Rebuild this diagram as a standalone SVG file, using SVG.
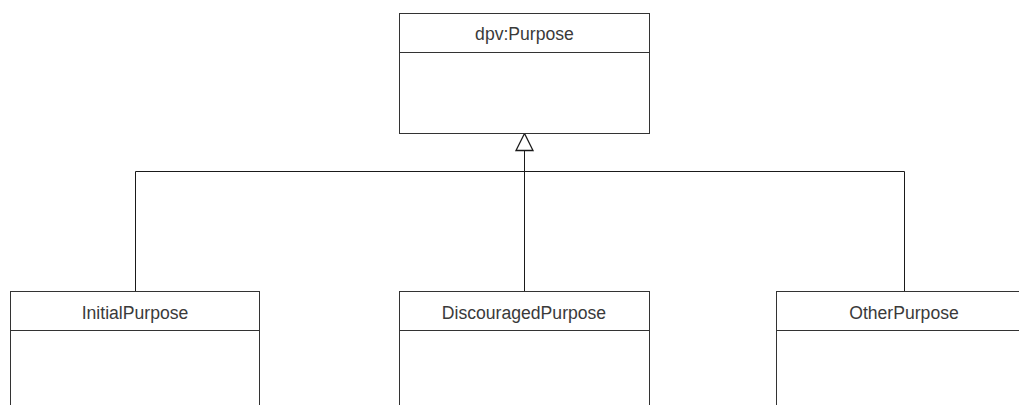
<svg xmlns="http://www.w3.org/2000/svg" width="1019" height="405" viewBox="0 0 1019 405">
  <style>
    .box { fill: #ffffff; stroke: #333333; stroke-width: 1; }
    .sep { stroke: #333333; stroke-width: 1; fill: none; }
    .edge { stroke: #1a1a1a; stroke-width: 1; fill: none; }
    .label { font-family: "Liberation Sans", Arial, sans-serif; font-size: 17.6px; fill: #3a3a3a; text-anchor: middle; }
  </style>
  <rect x="0" y="0" width="1019" height="405" fill="#ffffff"/>

  <!-- generalisation connectors -->
  <g id="connectors">
    <path class="edge" d="M524.5 150.5 V291.5"/>
    <path class="edge" d="M135.5 291.5 V171.5 H904.5 V291.5"/>
    <polygon points="524.5,133.5 516,150.5 533,150.5" fill="#ffffff" stroke="#1a1a1a" stroke-width="1.3"/>
  </g>

  <g id="purpose">
    <rect class="box" x="399.5" y="13.5" width="250" height="120"/>
    <line class="sep" x1="399.5" y1="52.5" x2="649.5" y2="52.5"/>
    <text class="label" x="524.5" y="39.5">dpv:Purpose</text>
  </g>

  <g id="initial-purpose">
    <rect class="box" x="10.5" y="291.5" width="249" height="130"/>
    <line class="sep" x1="10.5" y1="330.5" x2="259.5" y2="330.5"/>
    <text class="label" x="135" y="319">InitialPurpose</text>
  </g>

  <g id="discouraged-purpose">
    <rect class="box" x="399.5" y="291.5" width="250" height="130"/>
    <line class="sep" x1="399.5" y1="330.5" x2="649.5" y2="330.5"/>
    <text class="label" x="524" y="319">DiscouragedPurpose</text>
  </g>

  <g id="other-purpose">
    <rect class="box" x="776.5" y="291.5" width="255" height="130"/>
    <line class="sep" x1="776.5" y1="330.5" x2="1031.5" y2="330.5"/>
    <text class="label" x="904" y="319">OtherPurpose</text>
  </g>
</svg>
